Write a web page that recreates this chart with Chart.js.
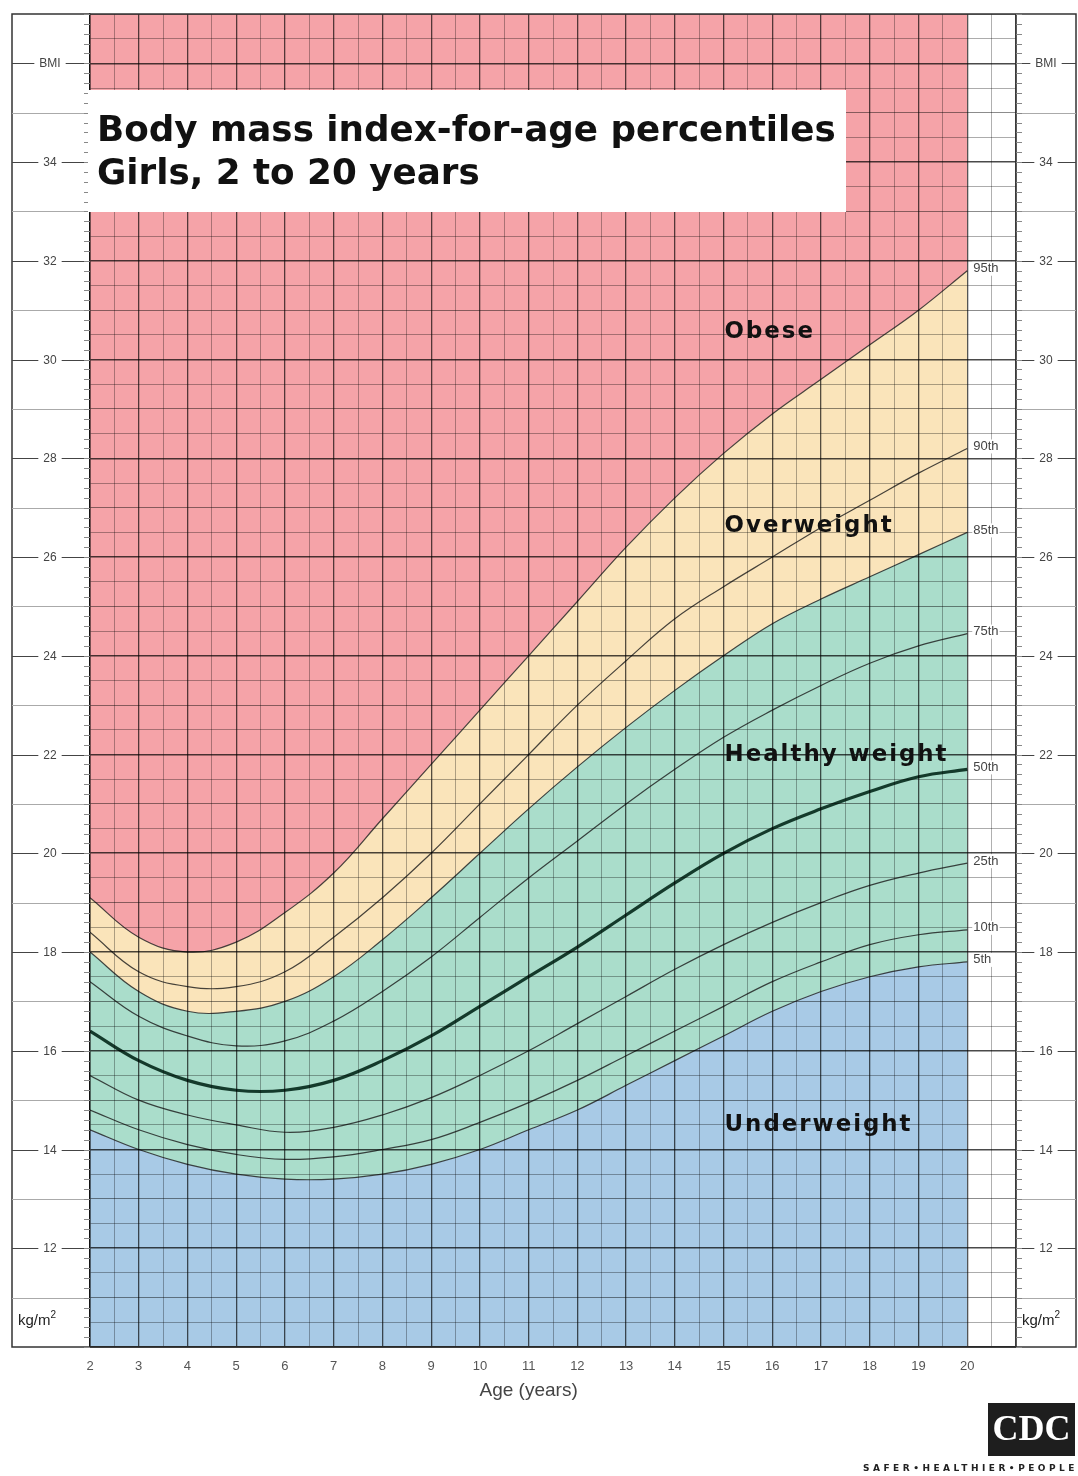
<!DOCTYPE html>
<html>
<head>
<meta charset="UTF-8">
<title>BMI-for-age percentiles, girls</title>
<script src="https://cdn.jsdelivr.net/npm/chart.js@4.4.1/dist/chart.umd.min.js"></script>
<style>
  body { margin: 0; background: #fff; }
  canvas { display: block; }
</style>
</head>
<body>
<canvas id="chart" width="1078" height="1476"></canvas>
<script>
// age in years, BMI in kg/m2
const ages = [2,3,4,5,6,7,8,9,10,11,12,13,14,15,16,17,18,19,20];
const p5  = [14.4,14.0,13.7,13.5,13.4,13.4,13.5,13.7,14.0,14.4,14.8,15.3,15.8,16.3,16.8,17.2,17.5,17.7,17.8];
const p10 = [14.8,14.4,14.1,13.9,13.8,13.85,14.0,14.2,14.55,14.95,15.4,15.9,16.4,16.9,17.4,17.8,18.15,18.35,18.45];
const p25 = [15.5,15.0,14.7,14.5,14.35,14.45,14.7,15.05,15.5,16.0,16.55,17.1,17.65,18.15,18.6,19.0,19.35,19.6,19.8];
const p50 = [16.4,15.8,15.4,15.2,15.2,15.4,15.8,16.3,16.9,17.5,18.1,18.75,19.4,20.0,20.5,20.9,21.25,21.55,21.7];
const p75 = [17.4,16.7,16.3,16.1,16.2,16.6,17.2,17.9,18.7,19.5,20.25,21.0,21.7,22.35,22.9,23.4,23.85,24.2,24.45];
const p85 = [18.0,17.2,16.8,16.8,17.0,17.5,18.25,19.1,20.0,20.9,21.75,22.55,23.3,24.0,24.65,25.15,25.6,26.05,26.5];
const p90 = [18.4,17.6,17.3,17.3,17.6,18.3,19.1,20.0,21.0,22.0,23.0,23.9,24.75,25.4,26.0,26.6,27.15,27.7,28.2];
const p95 = [19.1,18.3,18.0,18.2,18.8,19.6,20.7,21.8,22.9,24.0,25.1,26.2,27.2,28.1,28.9,29.6,30.3,31.0,31.8];

const percentileNames = ['5th','10th','25th','50th','75th','85th','90th','95th'];
const bmiTickLabels = [12,14,16,18,20,22,24,26,28,30,32,34];
const zoneNames = ['Obese','Overweight','Healthy weight','Underweight'];

const series = [p5,p10,p25,p50,p75,p85,p90,p95];
const pts = arr => ages.map((a, i) => ({x: a, y: arr[i]}));

const RED = 'rgb(245,163,168)';
const YELLOW = 'rgb(250,228,186)';
const GREEN = 'rgb(170,221,203)';
const BLUE = 'rgb(168,202,230)';

const datasets = series.map((s, i) => ({
  label: percentileNames[i],
  data: pts(s),
  borderColor: i === 3 ? 'rgba(12,48,34,0.95)' : 'rgba(25,25,25,0.8)',
  borderWidth: i === 3 ? 3.2 : 1.2,
  pointRadius: 0,
  tension: 0.4,
  fill: false
}));
datasets[0].fill = 'start';   datasets[0].backgroundColor = BLUE;
datasets[5].fill = 0;         datasets[5].backgroundColor = GREEN;
datasets[7].fill = 5;         datasets[7].backgroundColor = YELLOW;
// obese area above the 95th
datasets.push({
  label: 'obese', data: pts(p95), borderWidth: 0, borderColor: 'transparent',
  pointRadius: 0, tension: 0.4, fill: 'end', backgroundColor: RED
});

const decor = {
  id: 'decor',
  beforeDraw(chart) {
    const ctx = chart.ctx;
    ctx.save();
    ctx.fillStyle = '#fff';
    ctx.fillRect(0, 0, chart.width, chart.height);
    ctx.restore();
  },
  afterDatasetsDraw(chart) {
    // grid is drawn after this, darken the colours below it like ink on print
    chart.ctx.globalCompositeOperation = 'multiply';
  },
  afterDraw(chart) {
    const ctx = chart.ctx;
    ctx.globalCompositeOperation = 'source-over';
    const xs = chart.scales.x, ys = chart.scales.y;
    const a = chart.chartArea;
    ctx.save();

    // outer frame and right edge
    ctx.strokeStyle = '#333';
    ctx.lineWidth = 1.5;
    ctx.strokeRect(12, a.top, 1064, a.bottom - a.top);
    ctx.beginPath();
    ctx.moveTo(a.right, a.top); ctx.lineTo(a.right, a.bottom);
    ctx.stroke();

    // side label boxes
    const sides = [{l: 12, r: a.left, cx: 50}, {l: a.right, r: 1076, cx: 1046}];
    ctx.font = '12px "Liberation Sans"';
    ctx.textAlign = 'center';
    ctx.textBaseline = 'middle';
    sides.forEach(sd => {
      ctx.strokeStyle = '#aaa';
      ctx.lineWidth = 1;
      for (let v = 11; v <= 35; v += 2) {
        const y = Math.round(ys.getPixelForValue(v)) + 0.5;
        ctx.beginPath(); ctx.moveTo(sd.l, y); ctx.lineTo(sd.r, y); ctx.stroke();
      }
      const labs = bmiTickLabels.map(v => [v, String(v)]).concat([[36, 'BMI']]);
      labs.forEach(([v, t]) => {
        const y = Math.round(ys.getPixelForValue(v)) + 0.5;
        const w = ctx.measureText(t).width;
        ctx.strokeStyle = '#444';
        ctx.lineWidth = 1.2;
        ctx.beginPath();
        ctx.moveTo(sd.l, y); ctx.lineTo(sd.cx - w / 2 - 5, y);
        ctx.moveTo(sd.cx + w / 2 + 5, y); ctx.lineTo(sd.r, y);
        ctx.stroke();
        ctx.fillStyle = '#444';
        ctx.fillText(t, sd.cx, y);
      });
      // small ticks every 0.2
      ctx.strokeStyle = '#888';
      ctx.lineWidth = 1;
      const edge = sd.l === 12 ? a.left : a.right;
      const dir = sd.l === 12 ? -1 : 1;
      for (let k = 50; k <= 185; k++) {
        const y = Math.round(ys.getPixelForValue(k / 5)) + 0.5;
        ctx.beginPath(); ctx.moveTo(edge, y); ctx.lineTo(edge + dir * 6, y); ctx.stroke();
      }
      // units
      ctx.save();
      ctx.fillStyle = '#222';
      ctx.textAlign = 'left';
      ctx.textBaseline = 'alphabetic';
      ctx.font = '15px "Liberation Sans"';
      const ux = sd.l + 6, uy = ys.getPixelForValue(10.55) + 5;
      ctx.fillText('kg/m', ux, uy);
      const uw = ctx.measureText('kg/m').width;
      ctx.font = '10px "Liberation Sans"';
      ctx.fillText('2', ux + uw, uy - 7);
      ctx.restore();
    });

    // title box
    ctx.fillStyle = '#fff';
    ctx.fillRect(88, 90, 758, 122);
    ctx.fillStyle = '#111';
    ctx.textAlign = 'left';
    ctx.textBaseline = 'alphabetic';
    ctx.font = 'bold 36px "DejaVu Sans"';
    const t1 = 'Body mass index-for-age percentiles';
    const fs = 36 * 739 / ctx.measureText(t1).width;
    ctx.font = `bold ${fs}px "DejaVu Sans"`;
    ctx.fillText(t1, 97, 141);
    ctx.fillText('Girls, 2 to 20 years', 97, 184);

    // zone labels
    ctx.font = 'bold 20px "DejaVu Sans"';
    ctx.letterSpacing = '2px';
    const zf = 20 * 228 / ctx.measureText('Healthy weight').width;
    ctx.font = `bold ${zf}px "DejaVu Sans"`;
    ctx.textBaseline = 'middle';
    const zoneAt = [30.56, 26.63, 22.0, 14.49];
    zoneNames.forEach((z, i) => {
      ctx.fillText(z, xs.getPixelForValue(15.02), ys.getPixelForValue(zoneAt[i]));
    });
    ctx.letterSpacing = '0px';

    // percentile labels at the line ends
    ctx.font = '13px "Liberation Sans"';
    series.forEach((s, i) => {
      const t = percentileNames[i];
      const y = ys.getPixelForValue(s[s.length - 1]) - 2;
      const x = xs.getPixelForValue(20) + 6;
      const w = ctx.measureText(t).width;
      ctx.fillStyle = '#fff';
      ctx.fillRect(x - 1, y - 7, w + 2, 14);
      ctx.fillStyle = '#444';
      ctx.fillText(t, x, y);
    });

    // axis title
    ctx.fillStyle = '#444';
    ctx.textAlign = 'center';
    ctx.font = '19px "Liberation Sans"';
    ctx.fillText('Age (years)', xs.getPixelForValue(11), 1391);

    // CDC mark
    ctx.fillStyle = '#1e1e1e';
    ctx.fillRect(988, 1403, 87, 53);
    ctx.fillStyle = '#fff';
    ctx.font = 'bold 40px "Liberation Serif"';
    const cf = 40 * 78 / ctx.measureText('CDC').width;
    ctx.font = `bold ${cf}px "Liberation Serif"`;
    ctx.fillText('CDC', 1031.5, 1431);
    ctx.fillStyle = '#222';
    ctx.textAlign = 'left';
    ctx.font = 'bold 9px "DejaVu Sans"';
    ctx.letterSpacing = '3.5px';
    const sl = 'SAFER\u2022HEALTHIER\u2022PEOPLE';
    const sw = ctx.measureText(sl).width;
    ctx.fillText(sl, 1078 - sw, 1469);
    ctx.letterSpacing = '0px';
    ctx.restore();
  }
};

const yGridColor = c => {
  const v = c.tick.value;
  if (Math.abs(v % 2) < 1e-6) return '#4a4a4a';
  if (Math.abs(v % 1) < 1e-6) return '#8c8c8c';
  return '#acacac';
};
const yGridWidth = c => (Math.abs(c.tick.value % 2) < 1e-6 ? 1.6 : 1);

new Chart(document.getElementById('chart'), {
  type: 'line',
  data: { datasets: datasets },
  options: {
    responsive: false,
    animation: false,
    devicePixelRatio: 1,
    layout: { padding: { left: 90, right: 62, top: 14, bottom: 0 } },
    plugins: {
      legend: { display: false },
      tooltip: { enabled: false },
      filler: { drawTime: 'beforeDatasetsDraw' }
    },
    scales: {
      x: {
        type: 'linear',
        min: 2, max: 21,
        afterFit: s => { s.height = 129; },
        border: { display: true, color: '#333', width: 1.5, z: 1 },
        grid: {
          z: 1,
          drawTicks: false,
          color: c => Number.isInteger(c.tick.value) ? '#555' : '#b0b0b0',
          lineWidth: c => Number.isInteger(c.tick.value) ? 1.3 : 1
        },
        ticks: {
          stepSize: 0.5,
          autoSkip: false,
          maxRotation: 0,
          padding: 12,
          color: '#555',
          font: { family: 'Liberation Sans', size: 13 },
          callback: v => (Number.isInteger(v) && v <= 20) ? String(v) : ''
        }
      },
      y: {
        type: 'linear',
        min: 10, max: 37,
        afterFit: s => { s.width = 0; },
        border: { display: true, color: '#333', width: 1.5, z: 1 },
        grid: { z: 1, drawTicks: false, color: yGridColor, lineWidth: yGridWidth },
        ticks: { stepSize: 0.5, display: false }
      }
    }
  },
  plugins: [decor]
});
</script>
</body>
</html>
